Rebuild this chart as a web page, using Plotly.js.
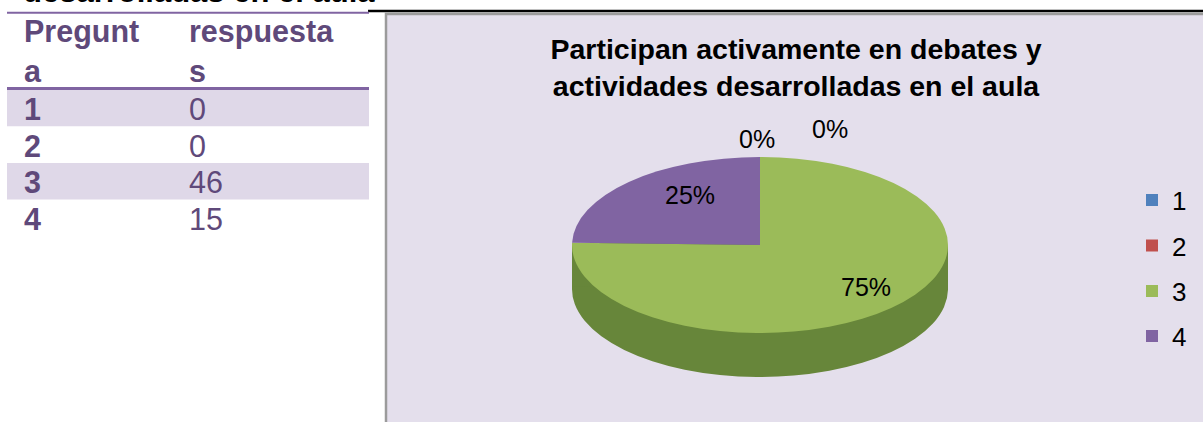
<!DOCTYPE html>
<html>
<head>
<meta charset="utf-8">
<script src="https://cdn.plot.ly/plotly-3.0.1.min.js"></script>
<style>
  html, body { margin: 0; padding: 0; background: #ffffff; }
  #chart { width: 1203px; height: 422px; }
</style>
</head>
<body>
<div id="chart"></div>
<script>
// ---- data ----
const headerLabels = ['Pregunt<br>a', 'respuesta<br>s'];
const preguntas = ['1', '2', '3', '4'];
const respuestas = [0, 0, 46, 15];
const sliceColors = ['#4F81BD', '#C0504D', '#9BBB59', '#8064A2'];
const sideColor = '#67863A';
const chartTitle = 'Participan activamente en debates y<br>actividades desarrolladas en el aula';
const pageHeading = 'desarrolladas en el aula';

// ---- helpers (pixel -> paper) ----
const W = 1203, H = 422;
const px = x => x / W;
const py = y => 1 - y / H;
const FONT = 'Liberation Sans, Arial, sans-serif';

const total = respuestas.reduce((a, b) => a + b, 0);
const pctText = respuestas.map(v => Math.round(v / total * 100) + '%');

// label placement (layout only), one per slice
const labelPos = [[757, 139], [830, 129], [866, 287], [690, 195]];

// pie geometry (layout only)
const pieLeft = 572, pieRight = 948;
const faceCy = 245, faceRy = 88, thickness = 44;
const rx = (pieRight - pieLeft) / 2;
const squashK = faceRy / rx;

// table geometry (layout only)
const tblLeft = 7, tblRight = 369;
const colTextX = [22, 187];
const rowTop = 89.5, rowH = 36.7;
const purple = '#5F497A';
const band = '#DFD8E8';
const tblFont = 30.5;

const pieDomain = { x: [px(pieLeft), px(pieRight)], y: [py(399), py(23)] };

const sidePie = {
  type: 'pie',
  labels: preguntas,
  values: respuestas,
  sort: false,
  direction: 'clockwise',
  rotation: 0,
  domain: pieDomain,
  marker: { colors: preguntas.map(() => sideColor), line: { width: 0 } },
  textinfo: 'none',
  hoverinfo: 'skip',
  showlegend: false
};

const topPie = {
  type: 'pie',
  labels: preguntas,
  values: respuestas,
  sort: false,
  direction: 'clockwise',
  rotation: 0,
  domain: pieDomain,
  marker: { colors: sliceColors, line: { width: 0 } },
  textinfo: 'none',
  hoverinfo: 'label+value+percent',
  showlegend: true
};

const annotations = [];

// percent labels
pctText.forEach((t, i) => annotations.push({
  xref: 'paper', yref: 'paper',
  x: px(labelPos[i][0]), y: py(labelPos[i][1]),
  xanchor: 'center', yanchor: 'middle',
  text: t, showarrow: false,
  font: { family: FONT, size: 25, color: '#000000' }
}));

// cut-off page heading
annotations.push({
  xref: 'paper', yref: 'paper',
  x: px(21), y: py(11), xanchor: 'left', yanchor: 'bottom',
  text: '<b>' + pageHeading + '</b>', showarrow: false,
  font: { family: FONT, size: 31, color: '#000000' }
});

// table header
headerLabels.forEach((h, c) => annotations.push({
  xref: 'paper', yref: 'paper',
  x: px(colTextX[c]), y: py(51), xanchor: 'left', yanchor: 'middle',
  align: 'left', text: '<b>' + h + '</b>', showarrow: false,
  font: { family: FONT, size: tblFont, color: purple }
}));

const shapes = [
  // chart panel
  { type: 'rect', xref: 'paper', yref: 'paper', layer: 'below',
    x0: px(386), x1: 1.02, y0: -0.05, y1: py(14),
    fillcolor: '#E4DFEC', line: { color: '#9B9B9B', width: 2.5 } },
  // side band of the 3D pie
  { type: 'rect', xref: 'paper', yref: 'paper', layer: 'below',
    x0: px(pieLeft), x1: px(pieRight), y0: py(faceCy + thickness), y1: py(faceCy),
    fillcolor: sideColor, line: { width: 0 } }
];

// table body: bands + cell text
preguntas.forEach((p, r) => {
  const y0 = rowTop + r * rowH, y1 = y0 + rowH, yc = (y0 + y1) / 2 + 1;
  if (r % 2 === 0) {
    shapes.push({ type: 'rect', xref: 'paper', yref: 'paper', layer: 'below',
      x0: px(tblLeft), x1: px(tblRight), y0: py(y1), y1: py(y0),
      fillcolor: band, line: { width: 0 } });
  }
  annotations.push({
    xref: 'paper', yref: 'paper', x: px(colTextX[0]), y: py(yc),
    xanchor: 'left', yanchor: 'middle', text: '<b>' + p + '</b>', showarrow: false,
    font: { family: FONT, size: tblFont, color: purple }
  });
  annotations.push({
    xref: 'paper', yref: 'paper', x: px(colTextX[1]), y: py(yc),
    xanchor: 'left', yanchor: 'middle', text: String(respuestas[r]), showarrow: false,
    font: { family: FONT, size: tblFont, color: purple }
  });
});

// rules
shapes.push(
  { type: 'line', xref: 'paper', yref: 'paper', layer: 'above',
    x0: px(368), x1: 1, y0: py(11), y1: py(11),
    line: { color: '#000000', width: 2.5 } },
  { type: 'line', xref: 'paper', yref: 'paper', layer: 'above',
    x0: px(tblLeft), x1: px(tblRight), y0: py(12.8), y1: py(12.8),
    line: { color: '#8064A2', width: 2 } },
  { type: 'line', xref: 'paper', yref: 'paper', layer: 'above',
    x0: px(tblLeft), x1: px(tblRight), y0: py(88.5), y1: py(88.5),
    line: { color: '#8064A2', width: 3 } }
);

const layout = {
  width: W, height: H,
  margin: { l: 0, r: 0, t: 0, b: 0 },
  paper_bgcolor: '#ffffff',
  plot_bgcolor: 'rgba(0,0,0,0)',
  title: {
    text: '<b>' + chartTitle + '</b>',
    x: px(796), xanchor: 'center',
    y: py(59), yanchor: 'middle',
    font: { family: FONT, size: 28.5, color: '#000000' }
  },
  showlegend: true,
  legend: {
    x: px(1132), xanchor: 'left',
    y: py(268), yanchor: 'middle',
    bgcolor: 'rgba(0,0,0,0)',
    font: { family: FONT, size: 26, color: '#000000' }
  },
  annotations: annotations,
  shapes: shapes
};

const legendCenters = [200, 245.5, 291, 336];

Plotly.newPlot('chart', [sidePie, topPie], layout, { displayModeBar: false, staticPlot: true })
  .then(gd => {
    // flatten the pies into a 3D-looking ellipse
    const groups = gd.querySelectorAll('.pielayer .trace');
    const targets = [faceCy + thickness, faceCy];
    groups.forEach((g, i) => {
      const bb = g.getBBox();
      const cy = bb.y + bb.height / 2;
      const tcy = targets[i] !== undefined ? targets[i] : faceCy;
      g.setAttribute('transform',
        'translate(0,' + tcy + ') scale(1,' + squashK + ') translate(0,' + (-cy) + ')');
    });
    // wider legend spacing, as in the reference
    const items = gd.querySelectorAll('.legend .traces');
    if (items.length) {
      const svgTop = gd.querySelector('.main-svg').getBoundingClientRect().top;
      items.forEach((it, i) => {
        if (i >= legendCenters.length) return;
        const sym = it.querySelector('.legendpoints path') || it;
        const r = sym.getBoundingClientRect();
        const cur = r.top + r.height / 2 - svgTop;
        const m = /translate\(\s*([-\d.]+)[ ,]+([-\d.]+)\s*\)/.exec(it.getAttribute('transform') || '');
        if (m) {
          const nx = parseFloat(m[1]);
          const ny = parseFloat(m[2]) + (legendCenters[i] - cur);
          it.setAttribute('transform', 'translate(' + nx + ',' + ny + ')');
        }
      });
    }
  });
</script>
</body>
</html>
